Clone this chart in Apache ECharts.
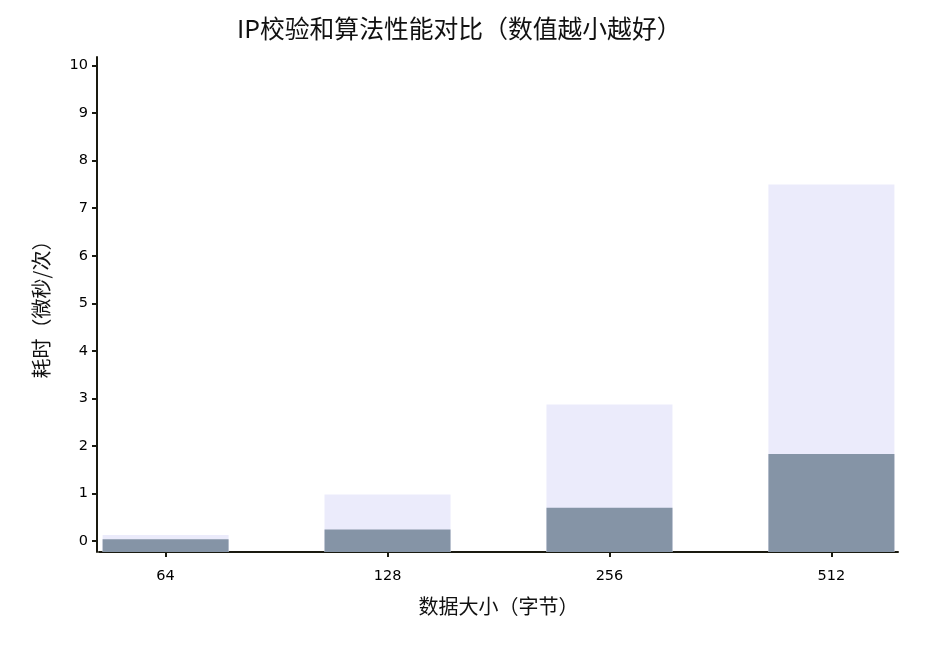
<!DOCTYPE html>
<html>
<head>
<meta charset="utf-8">
<script src="https://cdn.jsdelivr.net/npm/echarts@6/dist/echarts.min.js"></script>
<style>html,body{margin:0;padding:0;background:#fff;}#c{width:925px;height:649px;}</style>
</head>
<body>
<div id="c"></div>
<script>
const categories = ['64', '128', '256', '512'];
const seriesNames = ['算法A', '算法B'];
const lightValues = [0.13, 0.98, 2.87, 7.50];
const darkValues = [0.04, 0.245, 0.70, 1.83];
const yTicks = [0, 1, 2, 3, 4, 5, 6, 7, 8, 9, 10];

const FONT = 'DejaVu Sans, Noto Sans CJK SC, sans-serif';
const chart = echarts.init(document.getElementById('c'));
const pos = categories.map((c, i) => i);
chart.setOption({
  animation: false,
  title: {
    text: 'IP校验和算法性能对比（数值越小越好）',
    left: 232, top: 11,
    textStyle: { fontFamily: 'Noto Sans CJK SC', fontSize: 24.8, fontWeight: 'normal', color: '#111' }
  },
  grid: { left: 99, right: 27, top: 57, bottom: 97 },
  xAxis: {
    type: 'value', min: -0.3, max: 3.3,
    name: '数据大小（字节）', nameLocation: 'middle', nameGap: 44,
    nameTextStyle: { fontFamily: 'Noto Sans CJK SC', fontSize: 20, color: '#111' },
    splitLine: { show: false },
    axisLine: { show: true, onZero: false, lineStyle: { color: '#1a1a10', width: 2 } },
    axisTick: { show: true, length: 5, lineStyle: { color: '#1a1a10', width: 2 }, customValues: pos },
    axisLabel: { customValues: pos, formatter: v => categories[Math.round(v)], fontFamily: FONT, fontSize: 14.5, color: '#000', margin: 17 }
  },
  yAxis: {
    type: 'value', min: -0.23, max: 10.18, startValue: -0.23, offset: 2,
    name: '耗时（微秒/次）', nameLocation: 'middle', nameGap: 46,
    nameTextStyle: { fontFamily: 'Noto Sans CJK SC', fontSize: 20, color: '#111' },
    splitLine: { show: false },
    axisLine: { show: true, onZero: false, lineStyle: { color: '#1a1a10', width: 2 } },
    axisTick: { show: true, length: 5, lineStyle: { color: '#1a1a10', width: 2 }, customValues: yTicks },
    axisLabel: { customValues: yTicks, fontFamily: FONT, fontSize: 14.5, color: '#000', margin: 9 }
  },
  series: [
    {
      name: seriesNames[0], type: 'bar', barWidth: 126, barGap: '-100%',
      data: lightValues.map((v, i) => [pos[i], v]),
      itemStyle: { color: '#EBEBFB' }, z: 2
    },
    {
      name: seriesNames[1], type: 'bar', barWidth: 126, barGap: '-100%',
      data: darkValues.map((v, i) => [pos[i], v]),
      itemStyle: { color: '#8594A6' }, z: 3
    }
  ]
});
</script>
</body>
</html>
